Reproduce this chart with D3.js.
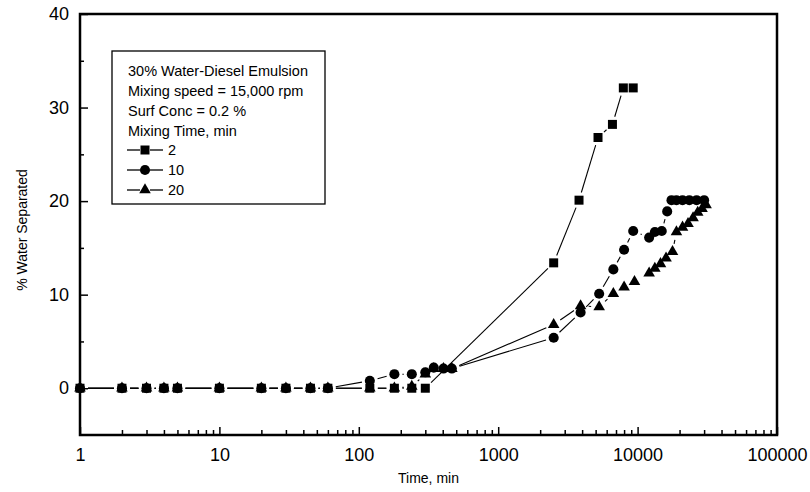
<!DOCTYPE html>
<html>
<head>
<meta charset="utf-8">
<script src="https://cdn.jsdelivr.net/npm/d3@7"></script>
<style>
  body { margin: 0; background: #fff; }
  text { font-family: "Liberation Sans", Arial, sans-serif; fill: #000; }
</style>
</head>
<body>
<div id="chart"></div>
<script>
// mixing time 2 min (squares)
var time2 = [1, 2, 3, 4, 5, 10, 20, 30, 45, 60, 120, 180, 240, 300,
             2500, 3800, 5200, 6600, 7900, 9300];
var water2 = [0, 0, 0, 0, 0, 0, 0, 0, 0, 0, 0, 0, 0, 0,
              13.4, 20.1, 26.8, 28.2, 32.1, 32.1];

// mixing time 10 min (circles)
var time10 = [1, 2, 3, 4, 5, 10, 20, 30, 45, 60, 120, 180, 240, 300, 345, 405, 465,
              2500, 3900, 5300, 6700, 8000, 9300, 12100, 13300, 14900, 16300,
              17500, 19000, 21000, 23500, 26500, 30000];
var water10 = [0, 0, 0, 0, 0, 0, 0, 0, 0, 0, 0.8, 1.5, 1.5, 1.7, 2.2, 2.1, 2.1,
               5.4, 8.1, 10.1, 12.7, 14.8, 16.8, 16.1, 16.7, 16.8, 18.9,
               20.1, 20.1, 20.1, 20.1, 20.1, 20.1];

// mixing time 20 min (triangles)
var time20 = [1, 2, 3, 4, 5, 10, 20, 30, 45, 60, 120, 180, 240, 300, 345, 405, 465,
              2500, 3900, 5300, 6700, 8000, 9500, 12100, 13300, 14600, 16000, 17800,
              19000, 21000, 23000, 25000, 27000, 29000, 31000];
var water20 = [0, 0, 0, 0, 0, 0, 0, 0, 0, 0, 0, 0, 0.2, 1.5, 2.1, 2.1, 2.1,
               6.8, 8.8, 8.7, 10.1, 10.8, 11.4, 12.3, 12.8, 13.3, 13.9, 14.6,
               16.7, 17.2, 17.6, 18.2, 18.8, 19.2, 19.6];

var xMajor = [1, 10, 100, 1000, 10000, 100000];
var yMajor = [0, 10, 20, 30, 40];
var yMinor = [5, 15, 25, 35];
var legendLines = ["30% Water-Diesel Emulsion", "Mixing speed = 15,000 rpm",
                   "Surf Conc = 0.2 %", "Mixing Time, min"];
var seriesNames = ["2", "10", "20"];

var width = 810, height = 492;
var margin = {left: 80, right: 777, top: 14, bottom: 435};
var gap = 8; // line stops short of each marker

var x = d3.scaleLog().domain([1, 100000]).range([margin.left, margin.right]);
var y = d3.scaleLinear().domain([-5, 40]).range([margin.bottom, margin.top]);

var xMinor = [];
xMajor.slice(0, -1).forEach(function(d) {
    for (var k = 2; k <= 9; k++) xMinor.push(d * k);
});

var svg = d3.select("#chart").append("svg")
    .attr("width", width)
    .attr("height", height);

// axes, ticks point inward
svg.append("g")
    .attr("transform", "translate(0," + margin.bottom + ")")
    .call(d3.axisBottom(x).tickValues(xMinor).tickSize(-5).tickFormat(""))
    .call(function(g) { g.select(".domain").remove(); });

svg.append("g")
    .attr("class", "xaxis")
    .attr("transform", "translate(0," + margin.bottom + ")")
    .call(d3.axisBottom(x).tickValues(xMajor).tickSize(-8).tickPadding(13).tickFormat(d3.format("d")))
    .call(function(g) { g.select(".domain").remove(); });

svg.append("g")
    .attr("transform", "translate(" + margin.left + ",0)")
    .call(d3.axisLeft(y).tickValues(yMinor).tickSize(-4).tickFormat(""))
    .call(function(g) { g.select(".domain").remove(); });

svg.append("g")
    .attr("class", "yaxis")
    .attr("transform", "translate(" + margin.left + ",0)")
    .call(d3.axisLeft(y).tickValues(yMajor).tickSize(-8).tickPadding(11))
    .call(function(g) { g.select(".domain").remove(); });

svg.selectAll(".tick line").attr("stroke", "#000").attr("stroke-width", 1.5);
svg.selectAll(".xaxis text, .yaxis text")
    .style("font-family", "Liberation Sans, Arial, sans-serif")
    .style("font-size", "18px")
    .attr("fill", "#000");

svg.append("rect")
    .attr("x", margin.left).attr("y", margin.top)
    .attr("width", margin.right - margin.left).attr("height", margin.bottom - margin.top)
    .attr("fill", "none").attr("stroke", "#000").attr("stroke-width", 2.5);

svg.append("text")
    .attr("x", (margin.left + margin.right) / 2).attr("y", 483)
    .attr("text-anchor", "middle")
    .style("font-size", "14px")
    .text("Time, min");

svg.append("text")
    .attr("transform", "translate(27,230) rotate(-90)")
    .attr("text-anchor", "middle")
    .style("font-size", "14px")
    .text("% Water Separated");

// series
var sqSym = d3.symbol().type(d3.symbolSquare).size(81);
var ciSym = d3.symbol().type(d3.symbolCircle).size(80);
var trSym = d3.symbol().type(d3.symbolTriangle).size(58);

var series = [
    {t: time2, v: water2, sym: sqSym},
    {t: time10, v: water10, sym: ciSym},
    {t: time20, v: water20, sym: trSym}
];

// segments between neighbouring points, trimmed by the gap at both ends
function segments(t, v) {
    var segs = [];
    for (var i = 0; i < t.length - 1; i++) {
        var x1 = x(t[i]), y1 = y(v[i]), x2 = x(t[i + 1]), y2 = y(v[i + 1]);
        var len = Math.hypot(x2 - x1, y2 - y1);
        if (len <= 2 * gap + 1) continue;
        var ux = (x2 - x1) / len, uy = (y2 - y1) / len;
        segs.push([x1 + ux * gap, y1 + uy * gap, x2 - ux * gap, y2 - uy * gap]);
    }
    return segs;
}

series.forEach(function(s) {
    svg.append("g").selectAll("line")
        .data(segments(s.t, s.v))
        .enter().append("line")
        .attr("x1", function(d) { return d[0]; })
        .attr("y1", function(d) { return d[1]; })
        .attr("x2", function(d) { return d[2]; })
        .attr("y2", function(d) { return d[3]; })
        .attr("stroke", "#000")
        .attr("stroke-width", 1.1);
});

series.forEach(function(s) {
    var pts = s.t.map(function(t, i) { return [t, s.v[i]]; });
    svg.append("g").selectAll("path")
        .data(pts)
        .enter().append("path")
        .attr("d", s.sym)
        .attr("transform", function(d) { return "translate(" + x(d[0]) + "," + y(d[1]) + ")"; })
        .attr("fill", "#000");
});

// legend
var legend = svg.append("g");
legend.append("rect")
    .attr("x", 112).attr("y", 51)
    .attr("width", 213).attr("height", 153)
    .attr("fill", "#fff").attr("stroke", "#000").attr("stroke-width", 1.3);

legendLines.forEach(function(txt, i) {
    legend.append("text")
        .attr("x", 128).attr("y", 76 + i * 20)
        .style("font-size", "14.5px")
        .text(txt);
});

var legSyms = [sqSym, ciSym, trSym];
seriesNames.forEach(function(name, i) {
    var yy = 150 + i * 20;
    [[127, 140], [150, 163]].forEach(function(p) {
        legend.append("line")
            .attr("x1", p[0]).attr("x2", p[1])
            .attr("y1", yy).attr("y2", yy)
            .attr("stroke", "#000").attr("stroke-width", 1.3);
    });
    legend.append("path")
        .attr("d", legSyms[i])
        .attr("transform", "translate(145," + yy + ")")
        .attr("fill", "#000");
    legend.append("text")
        .attr("x", 168).attr("y", yy + 5)
        .style("font-size", "14.5px")
        .text(name);
});
</script>
</body>
</html>
